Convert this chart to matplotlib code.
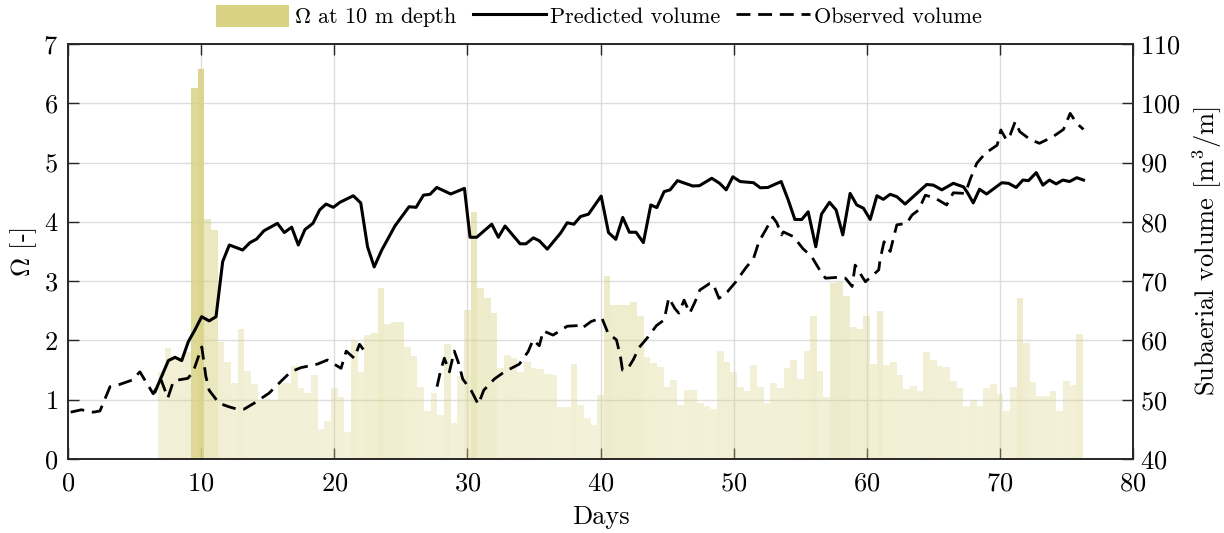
import numpy as np
import matplotlib
matplotlib.use('Agg')
from matplotlib import pyplot as plt
from matplotlib.colors import to_rgba
from matplotlib.patches import Patch
from matplotlib.lines import Line2D

plt.rcParams['font.family'] = 'serif'
plt.rcParams['font.serif'] = ['cmr10']
plt.rcParams['mathtext.fontset'] = 'cm'
plt.rcParams['axes.formatter.use_mathtext'] = True
plt.rcParams['font.size'] = 19

# Omega at 10 m depth, one value every half day from day 7 to day 76
omega_days = np.arange(7.0, 76.01, 0.5)
omega = np.array([
    1.47, 1.88, 1.70, 1.72, 1.80, 6.25, 6.57, 4.04, 3.86, 1.98,
    1.63, 1.29, 2.20, 1.49, 1.26, 1.00, 1.02, 1.00, 1.29, 1.29,
    1.57, 1.19, 1.11, 1.42, 0.50, 0.64, 1.19, 1.04, 0.46, 2.01,
    1.47, 2.10, 2.12, 2.88, 2.28, 2.31, 2.31, 1.89, 1.74, 1.21,
    0.81, 1.11, 0.75, 1.94, 0.60, 1.40, 2.52, 4.17, 2.88, 2.72,
    2.46, 1.53, 1.75, 1.71, 1.46, 1.64, 1.53, 1.52, 1.44, 1.41,
    0.88, 0.88, 1.60, 0.91, 0.70, 0.57, 1.08, 3.08, 2.60, 2.59,
    2.59, 2.64, 2.42, 1.72, 1.62, 1.55, 1.21, 1.34, 0.91, 1.17,
    1.17, 0.94, 0.89, 0.84, 1.82, 1.64, 1.47, 1.21, 1.15, 1.59,
    1.22, 0.95, 1.29, 1.20, 1.53, 1.67, 1.35, 1.82, 2.42, 1.49,
    1.04, 2.97, 2.98, 2.75, 2.23, 2.19, 2.42, 1.60, 2.50, 1.59,
    1.64, 1.42, 1.18, 1.23, 1.14, 1.81, 1.67, 1.57, 1.56, 1.32,
    1.20, 0.89, 0.99, 0.90, 1.20, 1.26, 1.10, 0.81, 1.21, 2.71,
    1.96, 1.30, 1.07, 1.07, 1.15, 0.81, 1.31, 1.25, 2.11,
])

# predicted subaerial volume (m3/m)
pred_days = [
    6.54, 7.54, 8.04, 8.54, 9.04, 9.54, 10.04, 10.6, 11.12, 11.62,
    12.12, 13.12, 13.67, 14.17, 14.72, 15.73, 16.25, 16.8, 17.3, 17.8,
    18.4, 18.9, 19.38, 19.93, 20.43, 21.43, 21.99, 22.5, 23.0, 23.57,
    24.57, 25.62, 26.15, 26.7, 27.2, 27.7, 28.75, 29.78, 30.2, 30.7,
    31.83, 32.33, 32.83, 33.96, 34.4, 34.96, 35.41, 36.0, 37.0, 37.5,
    38.0, 38.5, 39.1, 40.05, 40.6, 41.15, 41.67, 42.17, 42.67, 43.22,
    43.78, 44.23, 44.78, 45.23, 45.78, 46.93, 47.43, 48.36, 48.95, 49.44,
    49.94, 50.49, 51.5, 52.0, 52.57, 53.57, 54.1, 54.6, 55.12, 55.6,
    56.17, 56.6, 57.2, 57.7, 58.2, 58.75, 59.25, 59.75, 60.26, 60.76,
    61.25, 61.76, 62.26, 62.88, 64.5, 65.0, 65.64, 66.5, 67.27, 67.57,
    68.0, 68.47, 69.0, 70.15, 70.65, 71.22, 71.73, 72.15, 72.73, 73.23,
    73.72, 74.23, 74.73, 75.23, 75.78, 76.28,
]
pred_vol = [
    51.35, 56.6, 57.15, 56.6, 59.8, 61.8, 64.0, 63.3, 64.0, 73.3,
    76.1, 75.25, 76.5, 77.1, 78.5, 79.75, 78.2, 79.1, 76.1, 78.7,
    79.75, 82.0, 83.0, 82.45, 83.3, 84.4, 83.2, 75.8, 72.4, 75.25,
    79.35, 82.55, 82.45, 84.5, 84.65, 85.8, 84.7, 85.65, 77.4, 77.4,
    79.6, 77.4, 79.3, 76.3, 76.3, 77.3, 76.8, 75.4, 78.1, 79.85,
    79.6, 80.9, 81.3, 84.35, 78.2, 77.05, 80.75, 78.25, 78.25, 76.5,
    82.85, 82.4, 85.1, 85.4, 86.95, 86.05, 86.1, 87.35, 86.5, 85.4,
    87.6, 86.8, 86.6, 85.75, 85.8, 86.8, 83.7, 80.4, 80.4, 81.7,
    75.8, 81.3, 83.3, 82.0, 77.8, 84.8, 82.85, 82.3, 80.4, 84.4,
    83.8, 84.65, 84.25, 83.0, 86.3, 86.2, 85.4, 86.5, 85.9, 84.9,
    83.2, 85.5, 84.7, 86.6, 86.5, 85.8, 87.05, 86.95, 88.3, 86.2,
    87.05, 86.4, 87.05, 86.8, 87.45, 87.05,
]

# observed subaerial volume (m3/m), no surveys between days 22.4 and 27.7
obs_days = [
    0.2, 1.0, 1.9, 2.4, 3.16, 3.78, 4.8, 5.4, 6.4, 7.0,
    7.5, 7.9, 8.2, 9.0, 9.4, 10.05, 10.35, 10.6, 11.35, 12.1,
    12.72, 13.22, 13.97, 15.1, 15.72, 16.73, 17.48, 18.73, 19.48, 20.51,
    20.9, 21.5, 21.9, 22.4, 25.0,
    27.72, 28.0, 28.27, 28.65, 29.02, 29.35, 29.65, 30.3, 30.82, 31.23,
    32.03, 32.78, 33.9, 34.56, 34.94, 35.4, 35.7, 36.44, 37.5, 38.3,
    38.57, 39.3, 40.1, 40.57, 41.2, 41.5, 41.65, 42.07, 42.45, 42.9,
    43.58, 44.2, 44.78, 45.13, 45.58, 45.88, 46.28, 46.7, 47.1, 47.46,
    48.2, 48.45, 48.9, 49.53, 50.17, 50.9, 51.5, 51.9, 52.4, 52.94,
    53.24, 53.6, 53.74, 54.5, 55.2, 55.87, 56.5, 56.9, 57.87, 58.4,
    58.9, 59.13, 59.5, 59.9, 60.9, 61.0, 61.3, 61.76, 62.0, 62.26,
    63.0, 63.4, 63.9, 64.4, 65.14, 66.0, 66.5, 67.4, 67.8, 68.27,
    68.9, 69.8, 70.07, 70.5, 70.77, 71.15, 71.5, 72.27, 72.97, 73.98,
    74.78, 75.28, 75.78, 76.28,
]
obs_vol = [
    47.9, 48.3, 47.9, 48.1, 52.2, 52.5, 53.3, 54.7, 51.0, 53.3,
    50.3, 53.0, 53.3, 53.6, 54.7, 58.9, 54.0, 51.6, 49.4, 48.8,
    48.4, 48.4, 49.4, 51.1, 52.5, 54.7, 55.4, 56.0, 56.7, 55.3,
    58.2, 57.0, 59.35, 57.8, np.nan,
    52.2, 55.0, 57.0, 54.7, 58.2, 56.1, 53.5, 51.5, 49.2, 51.6,
    53.5, 54.7, 56.0, 58.1, 60.1, 59.1, 61.6, 60.9, 62.4, 62.5,
    62.0, 63.2, 63.8, 61.2, 60.1, 57.25, 55.0, 55.3, 56.7, 58.8,
    60.6, 62.5, 63.45, 67.2, 65.4, 64.6, 66.8, 64.6, 66.5, 68.5,
    69.6, 69.6, 67.1, 68.2, 69.9, 72.2, 73.85, 76.65, 78.6, 80.8,
    79.85, 77.8, 78.3, 77.5, 75.5, 74.1, 71.75, 70.5, 70.65, 70.5,
    69.1, 72.7, 71.3, 69.9, 71.9, 73.6, 76.65, 75.0, 77.2, 79.5,
    79.75, 81.15, 82.0, 84.5, 84.0, 82.85, 84.9, 84.8, 87.35, 89.9,
    91.55, 92.95, 95.5, 93.8, 94.65, 96.9, 95.2, 93.9, 93.25, 94.35,
    95.6, 98.3, 96.6, 95.6,
]

bar_color = '#d9d284'
spine_color = '#262626'
obs_dashes = (5.0, 2.8)

fig = plt.figure(figsize=(12.24, 5.33), dpi=100)
ax = fig.add_axes([68 / 1224, 1 - 459 / 533, (1133 - 68) / 1224, (459 - 44) / 533])

# stronger days are drawn more opaque
alphas = 0.3 + 0.6 * (omega / omega.max()) ** 2
colors = [to_rgba(bar_color, a) for a in alphas]
ax.bar(omega_days, omega, width=0.5, color=colors, edgecolor='none')

ax.set_xlim(0, 80)
ax.set_ylim(0, 7)
ax.set_xticks(np.arange(0, 81, 10))
ax.set_yticks(np.arange(0, 8, 1))
ax.set_axisbelow(True)
ax.grid(True, color='#dddddd', lw=1.0)
ax.set_xlabel('Days', labelpad=7)
ax.set_ylabel(r'$\Omega$ [-]', labelpad=3)
ax.tick_params(direction='in', length=8, width=1.0, top=True, color=spine_color)
ax.tick_params(axis='x', pad=9)
ax.tick_params(axis='y', pad=7)

ax2 = ax.twinx()
ax2.plot(pred_days, pred_vol, color='k', lw=2.2)
ax2.plot(obs_days, obs_vol, color='k', lw=2.0, dashes=obs_dashes)
ax2.set_ylim(40, 110)
ax2.set_yticks(np.arange(40, 111, 10))
ax2.set_ylabel(r'Subaerial volume [m$^3$/m]', labelpad=7)
ax2.tick_params(direction='in', length=8, width=1.0, pad=5, color=spine_color)

for a in (ax, ax2):
    for s in a.spines.values():
        s.set_color(spine_color)
        s.set_linewidth(1.2)

handles = [
    Patch(facecolor=bar_color, edgecolor='none'),
    Line2D([], [], color='k', lw=2.2),
    Line2D([], [], color='k', lw=2.0, dashes=obs_dashes),
]
labels = [r'$\Omega$ at 10 m depth', 'Predicted volume', 'Observed volume']
fig.legend(handles, labels, loc='center', bbox_to_anchor=(599 / 1224, 1 - 17 / 533),
           ncol=3, frameon=False, handlelength=3.3, handleheight=1.15,
           handletextpad=0.2, columnspacing=0.7, borderpad=0, fontsize=16)

fig.savefig('out.png', dpi=100)
